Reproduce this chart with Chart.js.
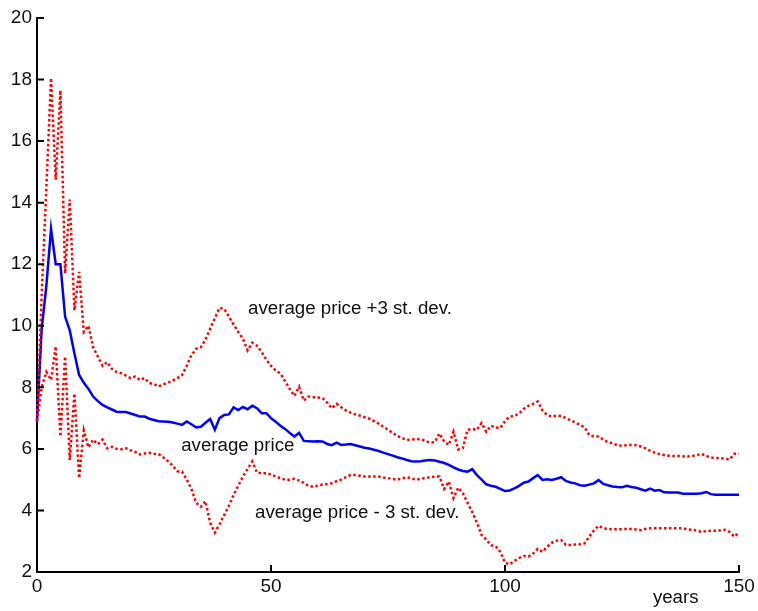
<!DOCTYPE html>
<html>
<head>
<meta charset="utf-8">
<script src="https://cdn.jsdelivr.net/npm/chart.js@4"></script>
<style>
  html, body { margin: 0; padding: 0; background: #fff; }
  #wrap { width: 758px; height: 611px; }
</style>
</head>
<body>
<div id="wrap"><canvas id="priceChart" width="758" height="611"></canvas></div>
<script>
// years 0..150
const years = Array.from({ length: 151 }, (_, i) => i);

const avgPrice = [
  6.9, 9.9, 11.3, 13.15, 12.0, 12.0, 10.3, 9.85, 9.1, 8.4,
  8.15, 7.95, 7.7, 7.55, 7.43, 7.35, 7.28, 7.21, 7.2, 7.2,
  7.15, 7.1, 7.05, 7.05, 6.98, 6.94, 6.9, 6.89, 6.88, 6.86,
  6.82, 6.78, 6.89, 6.8, 6.7, 6.72, 6.85, 6.97, 6.62, 7.0,
  7.1, 7.12, 7.35, 7.26, 7.36, 7.29, 7.4, 7.32, 7.16, 7.16,
  7.0, 6.88, 6.75, 6.65, 6.52, 6.4, 6.52, 6.26, 6.25, 6.24,
  6.25, 6.24, 6.16, 6.12, 6.2, 6.13, 6.14, 6.16, 6.12, 6.08,
  6.04, 6.01, 5.97, 5.93, 5.88, 5.83, 5.78, 5.73, 5.69, 5.64,
  5.6, 5.59, 5.6, 5.62, 5.64, 5.62, 5.58, 5.54, 5.48, 5.4,
  5.33, 5.28, 5.26, 5.34, 5.15, 5.0, 4.85, 4.8, 4.77, 4.7,
  4.63, 4.65, 4.72, 4.8, 4.9, 4.94, 5.05, 5.15, 4.99, 5.01,
  4.99, 5.03, 5.08, 4.96, 4.91, 4.88, 4.82, 4.8, 4.84, 4.88,
  4.99, 4.86, 4.82, 4.78, 4.76, 4.75, 4.8, 4.76, 4.74, 4.69,
  4.64, 4.71, 4.64, 4.66, 4.59, 4.58, 4.58, 4.58, 4.54, 4.54,
  4.54, 4.54, 4.56, 4.6, 4.53, 4.51, 4.51, 4.51, 4.51, 4.51,
  4.51
];

const upperBand = [
  6.9, 11.0, 14.5, 18.05, 14.75, 17.65, 11.7, 14.1, 10.5, 11.75,
  9.8, 10.0, 9.3, 9.0, 8.7, 8.82, 8.6, 8.5, 8.46, 8.38,
  8.3, 8.35, 8.24, 8.3, 8.14, 8.1, 8.03, 8.1, 8.15, 8.22,
  8.3, 8.4, 8.7, 9.05, 9.25, 9.3, 9.55, 9.9, 10.25, 10.58,
  10.55, 10.3, 10.05, 9.8, 9.58, 9.2, 9.45, 9.35, 9.15, 8.9,
  8.7, 8.55, 8.45, 8.2, 7.95, 7.72, 8.02, 7.57, 7.7, 7.68,
  7.67, 7.65, 7.5, 7.32, 7.46, 7.35, 7.25, 7.18, 7.12, 7.08,
  7.03, 6.98, 6.9, 6.82, 6.72, 6.62, 6.52, 6.42, 6.35, 6.29,
  6.3, 6.32, 6.31, 6.26, 6.2, 6.22, 6.5, 6.24, 6.13, 6.56,
  5.98, 6.02, 6.62, 6.65, 6.62, 6.84, 6.56, 6.75, 6.7, 6.68,
  6.9, 7.05, 7.07, 7.15, 7.3, 7.4, 7.46, 7.54, 7.25, 7.1,
  7.05, 7.08, 7.07, 7.0, 6.93, 6.86, 6.78, 6.7, 6.45, 6.4,
  6.4, 6.3, 6.22, 6.18, 6.12, 6.1, 6.12, 6.13, 6.12, 6.08,
  6.02, 5.94, 5.88, 5.83, 5.8, 5.78, 5.77, 5.77, 5.76, 5.75,
  5.77, 5.8, 5.84, 5.77, 5.72, 5.7, 5.7, 5.68, 5.66, 5.84,
  5.84
];

const lowerBand = [
  6.9, 8.0, 8.5, 8.24, 9.33, 6.4, 9.0, 5.64, 7.8, 5.05,
  6.6, 6.05, 6.3, 6.15, 6.3, 6.02, 6.07, 6.0, 5.99, 6.02,
  5.95, 5.9, 5.82, 5.85, 5.87, 5.84, 5.83, 5.72, 5.6, 5.45,
  5.27, 5.26, 5.0, 4.7, 4.25, 4.12, 4.3, 3.6, 3.28, 3.55,
  3.85, 4.15, 4.5, 4.8, 5.1, 5.35, 5.59, 5.23, 5.21, 5.21,
  5.17, 5.1, 5.05, 5.0, 5.0, 5.03, 4.97, 4.9, 4.8, 4.77,
  4.8, 4.84, 4.86, 4.88, 4.95, 5.0, 5.08, 5.15, 5.15, 5.13,
  5.1, 5.1, 5.1, 5.1, 5.07, 5.05, 5.02, 5.0, 5.04, 5.08,
  5.04, 5.0, 5.03, 5.05, 5.08, 5.1, 5.1, 4.7, 4.94, 4.4,
  4.74, 4.56, 4.25, 3.95, 3.6, 3.2, 3.05, 2.87, 2.84, 2.65,
  2.3, 2.25, 2.36, 2.45, 2.52, 2.5, 2.6, 2.75, 2.66, 2.82,
  2.95, 3.02, 3.04, 2.88, 2.88, 2.89, 2.9, 2.93, 3.15, 3.35,
  3.5, 3.42, 3.4, 3.39, 3.39, 3.39, 3.4, 3.4, 3.38, 3.36,
  3.4, 3.42, 3.42, 3.42, 3.42, 3.42, 3.42, 3.42, 3.42, 3.38,
  3.37, 3.35, 3.3, 3.33, 3.34, 3.34, 3.35, 3.37, 3.3, 3.15,
  3.28
];

const yTicks = [2, 4, 6, 8, 10, 12, 14, 16, 18, 20];
const xTicks = [0, 50, 100, 150];

// text labels placed in data units
const notes = [
  { text: "average price +3 st. dev.", x: 45.1, y: 10.55 },
  { text: "average price", x: 30.8, y: 6.09 },
  { text: "average price - 3 st. dev.", x: 46.6, y: 3.92 },
  { text: "years", x: 131.6, y: 1.15 }
];

const FONT = "'Liberation Sans', Arial, Helvetica, sans-serif";

const toXY = arr => arr.map((v, i) => ({ x: years[i], y: v }));

// inward tick marks + text labels
const extras = {
  id: "extras",
  afterDraw(chart) {
    const { ctx, chartArea, scales } = chart;
    ctx.save();
    ctx.strokeStyle = "#000";
    ctx.lineWidth = 2;
    ctx.beginPath();
    yTicks.forEach(v => {
      const py = scales.y.getPixelForValue(v);
      ctx.moveTo(chartArea.left, py);
      ctx.lineTo(chartArea.left + 7, py);
    });
    xTicks.forEach(v => {
      const px = scales.x.getPixelForValue(v);
      ctx.moveTo(px, chartArea.bottom);
      ctx.lineTo(px, chartArea.bottom - 7);
    });
    ctx.stroke();

    ctx.fillStyle = "#111";
    ctx.font = "18.7px " + FONT;
    ctx.textAlign = "left";
    ctx.textBaseline = "middle";
    notes.forEach(n => {
      ctx.fillText(n.text, scales.x.getPixelForValue(n.x), scales.y.getPixelForValue(n.y));
    });
    ctx.restore();
  }
};

document.addEventListener("DOMContentLoaded", () => {
  const ctx = document.getElementById("priceChart").getContext("2d");
  new Chart(ctx, {
    type: "line",
    data: {
      datasets: [
        {
          label: "average price +3 st. dev.",
          data: toXY(upperBand),
          borderColor: "#ff0000",
          borderWidth: 2.5,
          borderDash: [2.5, 2.5],
          pointRadius: 0,
          tension: 0,
          fill: false
        },
        {
          label: "average price - 3 st. dev.",
          data: toXY(lowerBand),
          borderColor: "#ff0000",
          borderWidth: 2.5,
          borderDash: [2.5, 2.5],
          pointRadius: 0,
          tension: 0,
          fill: false
        },
        {
          label: "average price",
          data: toXY(avgPrice),
          borderColor: "#0000ff",
          borderWidth: 2.5,
          pointRadius: 0,
          tension: 0,
          fill: false
        }
      ]
    },
    options: {
      responsive: false,
      animation: false,
      clip: false,
      layout: { padding: { top: 18, right: 19, left: 0, bottom: 0 } },
      plugins: {
        legend: { display: false },
        tooltip: { enabled: false }
      },
      scales: {
        x: {
          type: "linear",
          min: 0,
          max: 150,
          afterFit: s => { s.height = 39; },
          afterBuildTicks: s => { s.ticks = xTicks.map(v => ({ value: v })); },
          grid: { display: false, drawTicks: false },
          border: { display: true, color: "#000", width: 2 },
          ticks: { color: "#111", padding: 3, maxRotation: 0, font: { family: FONT, size: 19 } }
        },
        y: {
          type: "linear",
          min: 2,
          max: 20,
          afterFit: s => { s.width = 37; },
          afterBuildTicks: s => { s.ticks = yTicks.map(v => ({ value: v })); },
          grid: { display: false, drawTicks: false },
          border: { display: true, color: "#000", width: 2 },
          ticks: { color: "#111", padding: 5, font: { family: FONT, size: 19 } }
        }
      }
    },
    plugins: [extras]
  });
});
</script>
</body>
</html>
